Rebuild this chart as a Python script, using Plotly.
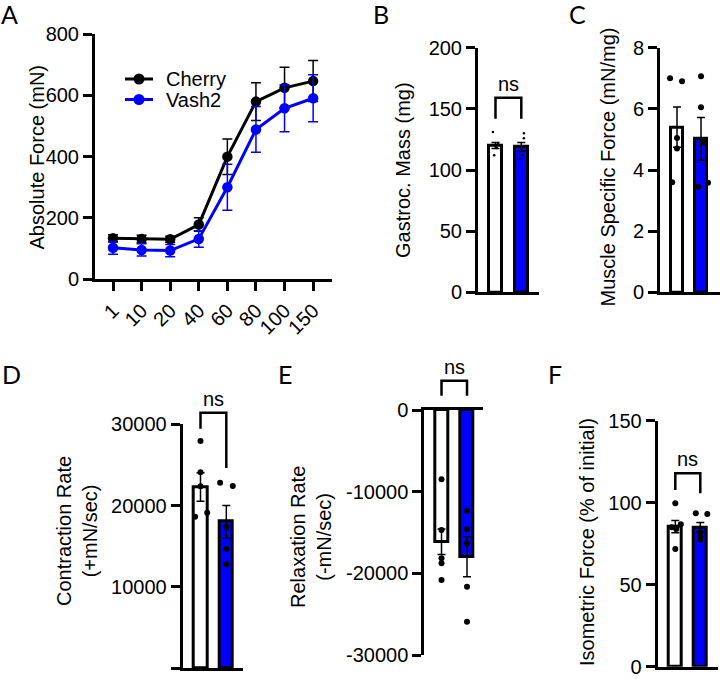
import plotly.graph_objects as go

# ---- data ----
stim_freq = ["1", "10", "20", "40", "60", "80", "100", "150"]
cherry_force = [133, 131, 130, 178, 400, 580, 625, 647]
cherry_force_sem = [12, 12, 10, 22, 58, 62, 67, 67]
vash2_force = [102, 95, 93, 131, 300, 489, 558, 591]
vash2_force_sem = [21, 20, 20, 27, 75, 75, 77, 77]

mass_mean = [120, 119]
mass_sem = [2.5, 3.5]
mass_cherry = [131, 122, 120, 118, 112]
mass_vash2 = [130, 126, 118, 112, 109]

spec_mean = [5.40, 5.02]
spec_sem = [0.66, 0.70]
spec_cherry = [7.0, 6.9, 5.05, 4.7, 3.6]
spec_vash2 = [7.07, 6.05, 4.9, 3.45, 3.58]

contr_mean = [22300, 18030]
contr_sem = [1750, 2000]
contr_cherry = [27950, 24100, 22380, 18640, 19130]
contr_vash2 = [22820, 22410, 17410, 14670, 12790]

relax_mean = [-16130, -17960]
relax_sem = [1550, 2450]
relax_cherry = [-8490, -14690, -18160, -18780, -20820]
relax_vash2 = [-12330, -14610, -16330, -21630, -25920]

iso_mean = [85.4, 85.0]
iso_sem = [3.7, 3.0]
iso_cherry = [99.6, 86.8, 85, 84, 71.8]
iso_vash2 = [93.5, 93.1, 82, 79, 77.4]

# ---- style / layout ----
W, H = 720, 679
FONT = "Liberation Sans"
BLUE = "#0000FF"
FS = 20
TICKLEN = 9

# axes boxes in pixels (left, right, top, bottom) and ranges
panels = {
    "A": dict(ax="", box=(95, 332, 34.3, 279), xr=[-0.63, 7.66], yr=[0, 800],
              yt=[0, 200, 400, 600, 800]),
    "B": dict(ax="2", box=(478, 539, 47.7, 292.3), xr=[-0.678, 1.686], yr=[0, 200],
              yt=[0, 50, 100, 150, 200]),
    "C": dict(ax="3", box=(660, 720, 47.7, 292.3), xr=[-0.708, 1.79], yr=[0, 8],
              yt=[0, 2, 4, 6, 8]),
    "D": dict(ax="4", box=(182.7, 243, 424.3, 668.3), xr=[-0.69, 1.647], yr=[0, 30000],
              yt=[0, 10000, 20000, 30000]),
    "E": dict(ax="5", box=(424.3, 483, 410, 655), xr=[-0.675, 1.627], yr=[-30000, 0],
              yt=[-30000, -20000, -10000, 0]),
    "F": dict(ax="6", box=(657.7, 718, 420.7, 666.7), xr=[-0.704, 1.708], yr=[0, 150],
              yt=[0, 50, 100, 150]),
}


def to_paper(p, xv, yv):
    l, r, t, b = panels[p]["box"]
    x0, x1 = panels[p]["xr"]
    y0, y1 = panels[p]["yr"]
    px = l + (xv - x0) / (x1 - x0) * (r - l)
    py = b - (yv - y0) / (y1 - y0) * (b - t)
    return px / W, 1 - py / H


fig = go.Figure()

# panel A - force frequency curve
xs = list(range(len(stim_freq)))
fig.add_trace(go.Scatter(
    x=xs, y=cherry_force, name="Cherry", mode="lines+markers", showlegend=False,
    line=dict(color="black", width=3), marker=dict(size=10.5, color="black"),
    error_y=dict(type="data", array=cherry_force_sem, color="black", thickness=1.5, width=5),
))
fig.add_trace(go.Scatter(
    x=xs, y=vash2_force, name="Vash2", mode="lines+markers", showlegend=False,
    line=dict(color=BLUE, width=3), marker=dict(size=10.5, color=BLUE),
    error_y=dict(type="data", array=vash2_force_sem, color=BLUE, thickness=1.5, width=5),
))

bar_sets = [
    ("B", mass_mean, mass_sem, mass_cherry, mass_vash2, 2.5,
     [-0.1, 0.1, 0, 0.05, -0.05], [0.1, 0.1, 0, 0.05, -0.05]),
    ("C", spec_mean, spec_sem, spec_cherry, spec_vash2, 6,
     [-0.29, 0.21, 0, 0, -0.2], [0, 0, 0.08, -0.12, 0.29]),
    ("D", contr_mean, contr_sem, contr_cherry, contr_vash2, 6,
     [0, 0, 0, -0.21, 0.26], [-0.24, 0.25, 0, 0, 0]),
    ("E", relax_mean, relax_sem, relax_cherry, relax_vash2, 6,
     [0, 0, 0, 0, 0], [0, 0, 0, 0, 0]),
    ("F", iso_mean, iso_sem, iso_cherry, iso_vash2, 6,
     [0, 0.22, -0.14, 0.04, 0], [-0.18, 0.28, 0, 0, 0]),
]

for p, means, sems, d1, d2, dsize, j1, j2 in bar_sets:
    a = panels[p]["ax"]
    fig.add_trace(go.Bar(
        x=[0, 1], y=means, width=0.52, showlegend=False,
        marker=dict(color=["white", BLUE], line=dict(color="black", width=3)),
        error_y=dict(type="data", array=sems, color="black", thickness=1.5, width=4),
        xaxis="x" + a, yaxis="y" + a,
    ))
    fig.add_trace(go.Scatter(
        x=[0 + j for j in j1] + [1 + j for j in j2], y=d1 + d2, mode="markers",
        marker=dict(color="black", size=dsize), showlegend=False,
        xaxis="x" + a, yaxis="y" + a,
    ))

# axes
axis_common = dict(showgrid=False, zeroline=False, showline=True, linecolor="black",
                   linewidth=3, tickfont=dict(family=FONT, size=FS, color="black"))
for p, cfg in panels.items():
    a = cfg["ax"]
    l, r, t, b = cfg["box"]
    xa = dict(axis_common, domain=[l / W, r / W], range=cfg["xr"], anchor="y" + a)
    ya = dict(axis_common, domain=[1 - b / H, 1 - t / H], range=cfg["yr"], anchor="x" + a,
              ticks="outside", ticklen=TICKLEN, tickwidth=2.5, tickcolor="black",
              tickvals=cfg["yt"], ticktext=[str(v) for v in cfg["yt"]])
    if p == "A":
        xa.update(ticks="outside", ticklen=TICKLEN, tickwidth=2.5, tickcolor="black",
                  tickvals=xs, ticktext=stim_freq, tickangle=-45)
    else:
        xa.update(ticks="", showticklabels=False)
    if p == "E":
        xa.update(side="top")
    fig.update_layout({"xaxis" + a: xa, "yaxis" + a: ya})

shapes = []
annotations = []

# significance brackets: (panel, top, left leg end, right leg end)
brackets = [("B", 159, 142, 142), ("D", 31430, 29460, 24630),
            ("E", 3590, 1750, 1750), ("F", 117.9, 107.7, 105.7)]
for p, top, lb, rb in brackets:
    xl, yt = to_paper(p, 0, top)
    xr, _ = to_paper(p, 1, top)
    _, ylb = to_paper(p, 0, lb)
    _, yrb = to_paper(p, 1, rb)
    shapes.append(dict(type="path", xref="paper", yref="paper",
                       path=f"M {xl} {ylb} L {xl} {yt} L {xr} {yt} L {xr} {yrb}",
                       line=dict(color="black", width=2.5)))
    annotations.append(dict(text="ns", x=(xl + xr) / 2, y=yt + 14 / H, xref="paper",
                            yref="paper", showarrow=False, xanchor="center", yanchor="middle",
                            font=dict(family=FONT, size=FS, color="black")))

# legend of panel A drawn by hand (name, colour, centre y in px)
for name, col, ly in [("Cherry", "black", 79), ("Vash2", BLUE, 99.5)]:
    yp = 1 - ly / H
    shapes.append(dict(type="line", xref="paper", yref="paper", x0=125 / W, x1=153 / W,
                       y0=yp, y1=yp, line=dict(color=col, width=3)))
    shapes.append(dict(type="circle", xref="paper", yref="paper", fillcolor=col,
                       line=dict(color=col, width=0),
                       x0=133.5 / W, x1=144.5 / W, y0=yp - 5.5 / H, y1=yp + 5.5 / H))
    annotations.append(dict(text=name, x=164 / W, y=yp, xref="paper", yref="paper",
                            showarrow=False, xanchor="left", yanchor="middle",
                            font=dict(family=FONT, size=FS, color="black")))

# y axis titles (text, x px, y px)
ytitles = [("Absolute Force (mN)", 36, 157.5),
           ("Gastroc. Mass (mg)", 403, 170),
           ("Muscle Specific Force (mN/mg)", 607, 167.5),
           ("Contraction Rate<br>(+mN/sec)", 77, 531),
           ("Relaxation Rate<br>(-mN/sec)", 311, 537),
           ("Isometric Force (% of initial)", 587, 542)]
for txt, px, py in ytitles:
    annotations.append(dict(text=txt, x=px / W, y=1 - py / H, xref="paper", yref="paper",
                            showarrow=False, textangle=-90, xanchor="center", yanchor="middle",
                            font=dict(family=FONT, size=FS, color="black")))

# panel letters
letters = [("A", 9, 13.5), ("B", 380.5, 13.5), ("C", 577.5, 13.5),
           ("D", 11.7, 373.5), ("E", 284.5, 373.5), ("F", 555, 373.5)]
for txt, px, py in letters:
    annotations.append(dict(text=txt, x=px / W, y=1 - py / H, xref="paper", yref="paper",
                            showarrow=False, xanchor="center", yanchor="middle",
                            font=dict(family="Lato", size=25, color="black")))

fig.update_layout(
    width=W, height=H, margin=dict(l=0, r=0, t=0, b=0),
    template="none", plot_bgcolor="white", paper_bgcolor="white",
    font=dict(family=FONT, size=FS, color="black"),
    showlegend=False, bargap=0,
    shapes=shapes, annotations=annotations,
)

# page body has a default margin; drop it so the figure sits at the window corner
fig.write_html("out.html", config={"displayModeBar": False},
               post_script="document.body.style.margin='0';")
